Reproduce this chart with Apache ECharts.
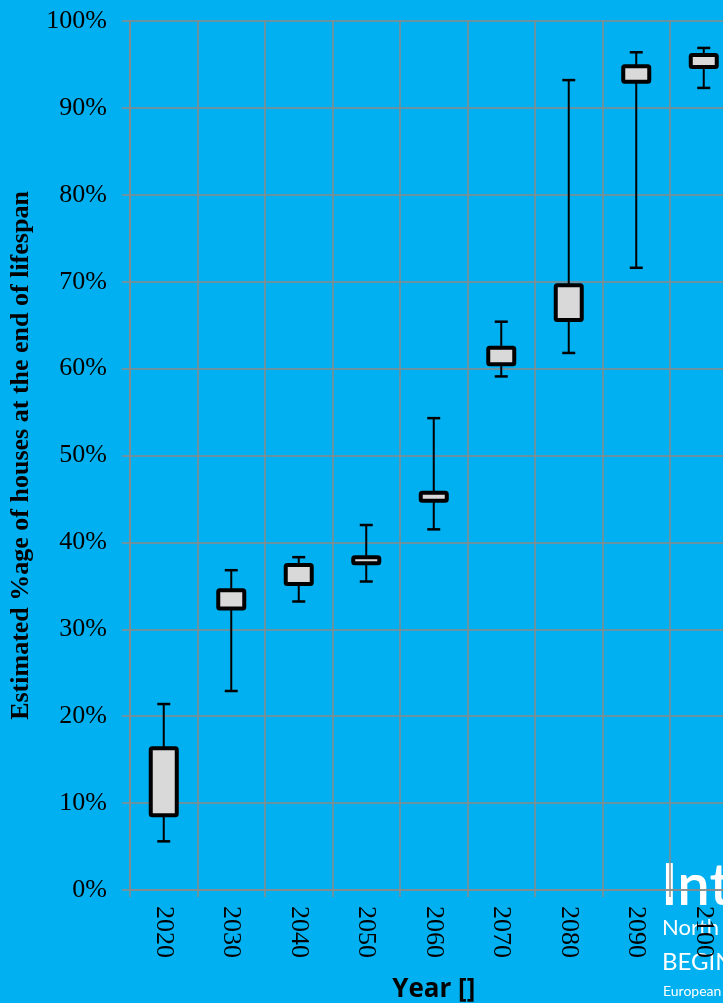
<!DOCTYPE html>
<html>
<head>
<meta charset="utf-8">
<script src="https://cdn.jsdelivr.net/npm/echarts@6/dist/echarts.min.js"></script>
<style>
  html, body { margin: 0; padding: 0; background: #00B0F0; overflow: hidden; }
  #chart { width: 723px; height: 1003px; }
</style>
</head>
<body>
<div id="chart"></div>
<script>
// Projection years on the x axis
const years = ['2020', '2030', '2040', '2050', '2060', '2070', '2080', '2090', '2100'];
// Whisker ends and box edges (percent of houses at end of lifespan)
const minimums = [5.6, 22.9, 33.2, 35.5, 41.5, 59.1, 61.8, 71.6, 92.3];
const lowerQuartiles = [8.6, 32.4, 35.2, 37.6, 44.8, 60.5, 65.6, 93.0, 94.7];
const upperQuartiles = [16.3, 34.5, 37.4, 38.3, 45.7, 62.4, 69.6, 94.8, 96.1];
const maximums = [21.4, 36.8, 38.3, 42.0, 54.3, 65.4, 93.2, 96.4, 96.9];
// Y axis ticks
const yTicks = { min: 0, max: 100, step: 10 };

const gridColor = '#8a8a8a';
const seriesData = years.map((y, i) => [i, minimums[i], lowerQuartiles[i], upperQuartiles[i], maximums[i]]);

const chart = echarts.init(document.getElementById('chart'), null, { renderer: 'canvas' });

chart.setOption({
  backgroundColor: '#00B0F0',
  animation: false,
  graphic: [
    { type: 'text', left: 661, top: 857, z: -10, silent: true,
      style: { text: 'Interreg', fill: '#ffffff', font: '600 58px Lato' } },
    { type: 'text', left: 662, top: 917, z: -10, silent: true,
      style: { text: 'North Sea', fill: '#ffffff', font: '22px Lato' } },
    { type: 'text', left: 662, top: 950, z: -10, silent: true,
      style: { text: 'BEGIN', fill: '#ffffff', font: '24px Lato' } },
    { type: 'text', left: 663, top: 984, z: -10, silent: true,
      style: { text: 'European Regional Development Fund', fill: '#ffffff', font: '14px Lato' } }
  ],
  grid: { left: 130, right: -14.5, top: 21, bottom: 113, outerBoundsMode: 'none', containLabel: false },
  xAxis: {
    type: 'category',
    data: years,
    boundaryGap: true,
    name: 'Year []',
    nameLocation: 'middle',
    nameGap: 87,
    nameTextStyle: { fontFamily: 'Open Sans', fontWeight: 'bold', fontSize: 26, color: '#000' },
    axisLine: { show: true, lineStyle: { color: gridColor, width: 1.5 } },
    axisTick: { show: true, length: 7, lineStyle: { color: gridColor, width: 1.5 } },
    splitLine: { show: true, lineStyle: { color: gridColor, width: 1.5 } },
    axisLabel: { rotate: -90, margin: 16, fontFamily: 'Liberation Serif', fontSize: 26, color: '#000' }
  },
  yAxis: {
    type: 'value',
    min: yTicks.min,
    max: yTicks.max,
    interval: yTicks.step,
    name: 'Estimated %age of houses at the end of lifespan',
    nameLocation: 'middle',
    nameGap: 96,
    nameTextStyle: { fontFamily: 'Liberation Serif', fontWeight: 'bold', fontSize: 26, color: '#000' },
    axisLine: { show: true, lineStyle: { color: gridColor, width: 1.5 } },
    axisTick: { show: true, length: 8, lineStyle: { color: gridColor, width: 1.5 } },
    splitLine: { show: true, lineStyle: { color: gridColor, width: 1.5 } },
    axisLabel: { formatter: '{value}%', margin: 23, fontFamily: 'Liberation Serif', fontSize: 26, color: '#000' }
  },
  series: [{
    type: 'custom',
    data: seriesData,
    encode: { x: 0, y: [1, 2, 3, 4] },
    clip: false,
    renderItem: function (params, api) {
      const idx = api.value(0);
      const pMin = api.coord([idx, api.value(1)]);
      const pQ1 = api.coord([idx, api.value(2)]);
      const pQ3 = api.coord([idx, api.value(3)]);
      const pMax = api.coord([idx, api.value(4)]);
      const cx = pMin[0];
      const boxW = 26;
      const capW = 13;
      const thin = { stroke: '#000', lineWidth: 2 };
      return {
        type: 'group',
        children: [
          { type: 'line', shape: { x1: cx, y1: pMax[1], x2: cx, y2: pQ3[1] }, style: thin },
          { type: 'line', shape: { x1: cx, y1: pQ1[1], x2: cx, y2: pMin[1] }, style: thin },
          { type: 'line', shape: { x1: cx - capW / 2, y1: pMax[1], x2: cx + capW / 2, y2: pMax[1] }, style: { stroke: '#000', lineWidth: 2.5 } },
          { type: 'line', shape: { x1: cx - capW / 2, y1: pMin[1], x2: cx + capW / 2, y2: pMin[1] }, style: { stroke: '#000', lineWidth: 2.5 } },
          { type: 'rect',
            shape: { x: cx - boxW / 2, y: pQ3[1], width: boxW, height: pQ1[1] - pQ3[1], r: 1.5 },
            style: { fill: '#D9D9D9', stroke: '#000', lineWidth: 4, lineJoin: 'round' } }
        ]
      };
    }
  }]
});
</script>
</body>
</html>
